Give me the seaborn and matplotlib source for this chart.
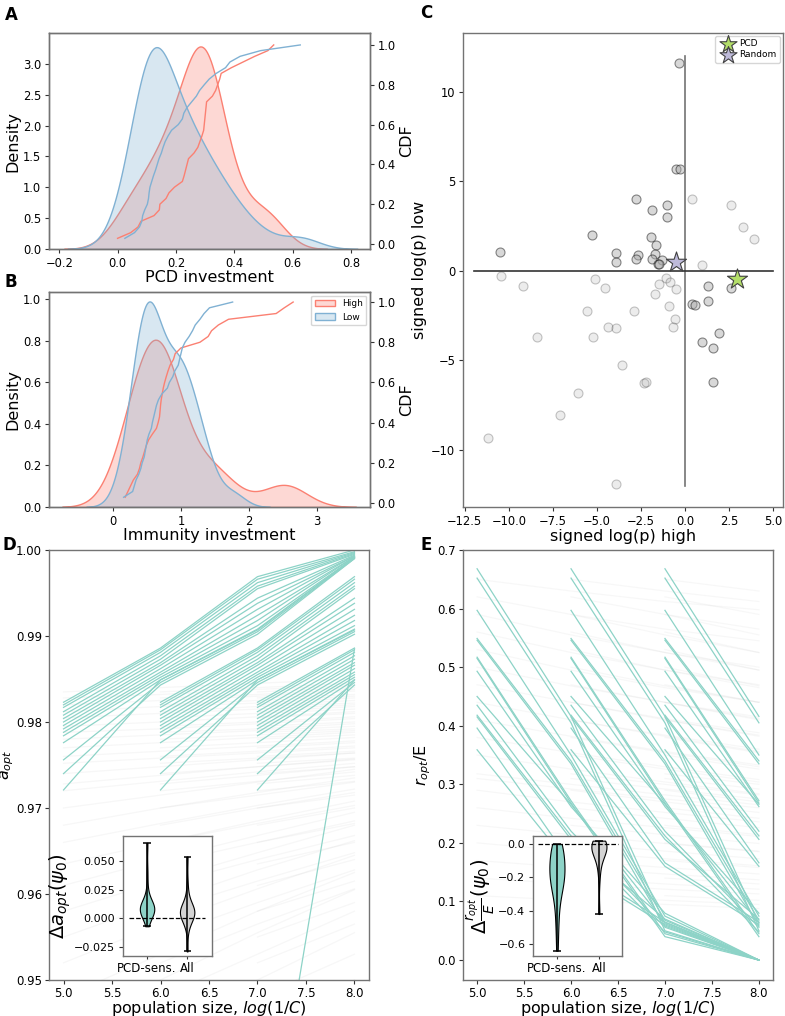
import numpy as np
import pandas as pd
import matplotlib
matplotlib.use("Agg")
import matplotlib.pyplot as plt
from matplotlib.patches import Patch
import seaborn as sns

# ---------------- data ----------------
pcd_high = [0.000, 0.045, 0.070, 0.080, 0.125, 0.143, 0.145, 0.166, 0.176, 0.195, 0.222, 0.228,
            0.233, 0.238, 0.243, 0.262, 0.275, 0.282, 0.289, 0.295, 0.297, 0.299, 0.301, 0.303,
            0.305, 0.325, 0.336, 0.343, 0.350, 0.355, 0.390, 0.430, 0.470, 0.515, 0.535]
pcd_low = [0.025, 0.058, 0.075, 0.083, 0.086, 0.093, 0.102, 0.106, 0.108, 0.111, 0.117, 0.123,
           0.130, 0.136, 0.142, 0.150, 0.156, 0.163, 0.173, 0.185, 0.208, 0.222, 0.227, 0.238,
           0.254, 0.270, 0.281, 0.297, 0.314, 0.338, 0.370, 0.385, 0.420, 0.490, 0.626]
imm_high = [0.18, 0.22, 0.26, 0.30, 0.36, 0.39, 0.41, 0.44, 0.465, 0.49, 0.525, 0.58, 0.64, 0.665,
            0.685, 0.693, 0.70, 0.71, 0.725, 0.74, 0.76, 0.784, 0.81, 0.84, 0.89, 0.915, 1.00,
            1.28, 1.40, 1.45, 1.55, 1.70, 2.40, 2.52, 2.65]
imm_low = [0.157, 0.29, 0.315, 0.34, 0.38, 0.41, 0.43, 0.46, 0.475, 0.49, 0.505, 0.53, 0.565, 0.58,
           0.60, 0.62, 0.64, 0.67, 0.72, 0.80, 0.83, 0.88, 0.91, 0.96, 0.98, 1.00, 1.02, 1.06,
           1.12, 1.17, 1.21, 1.28, 1.34, 1.42, 1.76]
group_labels = ["High", "Low"]

# panel C: signed log(p) high / low per gene
sig_high = [-0.34, -0.53, -0.30, -2.8, 0.42, -0.99, 2.61, -1.85, -1.03, 3.31, -5.28, -1.94, 3.92,
            -1.66, -10.5, -3.89, -2.69, -1.68, -2.78, -1.85, -1.31, -3.89, -1.54, -1.47, 0.99,
            -10.46, -5.1, -1.1, -0.82, -1.45, -9.2, -4.51, -0.48, 1.31, 2.61, -1.68, 0.40, 0.57,
            1.31, -0.91, -5.56, -2.9, -0.59, -4.38, -3.89, -0.69, 1.96, -8.4, -5.24, 0.95, 1.62,
            -3.6, -2.34, -2.21, 1.60, -6.08, -7.09, -11.17, -3.89]
sig_low = [11.65, 5.67, 5.71, 4.0, 4.02, 3.70, 3.70, 3.40, 3.0, 2.44, 1.99, 1.92, 1.77, 1.43, 1.06,
           1.02, 0.91, 0.97, 0.69, 0.69, 0.61, 0.47, 0.39, 0.39, 0.32, -0.30, -0.43, -0.39, -0.61,
           -0.74, -0.86, -0.93, -0.99, -0.86, -0.95, -1.28, -1.84, -1.93, -1.66, -1.97, -2.27,
           -2.23, -2.70, -3.11, -3.20, -3.14, -3.50, -3.68, -3.68, -3.98, -4.33, -5.27, -6.29,
           -6.23, -6.20, -6.85, -8.07, -9.32, -11.89]
star_labels = ["PCD", "Random"]
star_high = [2.96, -0.48]
star_low = [-0.43, 0.47]

# panels D/E: optimum vs population size; each sequence gives values at successive sizes
pop_sizes = [5, 6, 7, 8]
a_pcd = [
    (0.9823, 0.9886, 0.9969, 1.0000), (0.9820, 0.9884, 0.9966, 0.9998),
    (0.9817, 0.9881, 0.9962, 0.9997), (0.9812, 0.9877, 0.9958, 0.9996),
    (0.9808, 0.9873, 0.9955, 0.9995), (0.9804, 0.9869, 0.9944, 0.9994),
    (0.9800, 0.9866, 0.9938, 0.9993), (0.9796, 0.9862, 0.9931, 0.9993),
    (0.9792, 0.9858, 0.9924, 0.9992), (0.9788, 0.9855, 0.9918, 0.9992),
    (0.9784, 0.9852, 0.9912, 0.9991), (0.9776, 0.9849, 0.9907, 0.9991),
    (0.9756, 0.9846, 0.9905, 0.9990), (0.9740, 0.9843, 0.9902, 0.9990),
    (0.9721, 0.9849, 0.9908, 0.9991),
]
a_other = [
    (0.9835, 0.9840, 0.9845, 0.9850), (0.9828, 0.9832, 0.9838, 0.9842),
    (0.9820, 0.9825, 0.9830, 0.9836), (0.9812, 0.9818, 0.9822, 0.9828),
    (0.9805, 0.9810, 0.9815, 0.9820), (0.9795, 0.9800, 0.9806, 0.9812),
    (0.9788, 0.9792, 0.9798, 0.9804), (0.9780, 0.9785, 0.9790, 0.9795),
    (0.9770, 0.9776, 0.9782, 0.9788), (0.9760, 0.9766, 0.9772, 0.9778),
    (0.9752, 0.9758, 0.9764, 0.9770), (0.9740, 0.9748, 0.9756, 0.9764),
    (0.9728, 0.9738, 0.9748, 0.9757), (0.9720, 0.9731, 0.9742, 0.9752),
    (0.9700, 0.9715, 0.9730, 0.9745), (0.9680, 0.9700, 0.9718, 0.9735),
    (0.9660, 0.9682, 0.9703, 0.9722), (0.9635, 0.9660, 0.9685, 0.9708),
    (0.9610, 0.9640, 0.9668, 0.9695), (0.9580, 0.9615, 0.9648, 0.9680),
    (0.9550, 0.9590, 0.9628, 0.9662), (0.9520, 0.9565, 0.9606, 0.9645),
    (0.9480, 0.9530, 0.9580, 0.9625), (0.9440, 0.9500, 0.9555, 0.9605),
]
a_extra_size = [7, 8]
a_extra_val = [0.921, 0.9885]
r_pcd = [
    (0.668, 0.416, 0.062, 0.000), (0.652, 0.405, 0.050, 0.000),
    (0.597, 0.350, 0.075, 0.000), (0.549, 0.340, 0.068, 0.000),
    (0.546, 0.335, 0.058, 0.000), (0.517, 0.272, 0.045, 0.000),
    (0.515, 0.268, 0.040, 0.000), (0.493, 0.262, 0.080, 0.000),
    (0.450, 0.266, 0.064, 0.000), (0.435, 0.220, 0.056, 0.000),
    (0.418, 0.212, 0.048, 0.000), (0.415, 0.206, 0.070, 0.000),
    (0.396, 0.166, 0.065, 0.000), (0.359, 0.160, 0.060, 0.000),
]
r_other = [
    (0.650, 0.630, 0.612, 0.598), (0.620, 0.590, 0.565, 0.545),
    (0.590, 0.555, 0.525, 0.500), (0.560, 0.525, 0.495, 0.470),
    (0.530, 0.495, 0.465, 0.440), (0.500, 0.468, 0.440, 0.415),
    (0.470, 0.440, 0.412, 0.388), (0.440, 0.410, 0.384, 0.360),
    (0.410, 0.382, 0.356, 0.333), (0.380, 0.354, 0.330, 0.308),
    (0.350, 0.326, 0.304, 0.284), (0.318, 0.300, 0.282, 0.265),
    (0.310, 0.292, 0.275, 0.260), (0.290, 0.270, 0.252, 0.236),
    (0.260, 0.242, 0.226, 0.211), (0.230, 0.214, 0.199, 0.185),
    (0.200, 0.186, 0.173, 0.161), (0.170, 0.158, 0.147, 0.137),
    (0.140, 0.130, 0.121, 0.113), (0.110, 0.102, 0.095, 0.088),
]
# inset distributions
violin_labels = ["PCD-sens.", "All"]
da_pcd = [-0.007, -0.002, 0.001, 0.003, 0.004, 0.005, 0.006, 0.006, 0.007, 0.007, 0.008, 0.008,
          0.008, 0.008, 0.009, 0.009, 0.009, 0.010, 0.010, 0.011, 0.012, 0.013, 0.015, 0.018,
          0.026, 0.040, 0.066]
da_all = [-0.029, -0.010, -0.004, -0.002, 0.000, 0.001, 0.002, 0.003, 0.004, 0.004, 0.005, 0.005,
          0.005, 0.006, 0.006, 0.006, 0.007, 0.007, 0.008, 0.009, 0.010, 0.012, 0.015, 0.020,
          0.030, 0.054]
dr_pcd = [0.0, -0.005, -0.01, -0.02, -0.03, -0.05, -0.07, -0.09, -0.10, -0.12, -0.13, -0.15,
          -0.16, -0.17, -0.19, -0.20, -0.21, -0.22, -0.24, -0.25, -0.27, -0.29, -0.33, -0.38,
          -0.45, -0.52, -0.64]
dr_all = [0.02, 0.015, 0.01, 0.005, 0.0, 0.0, -0.005, -0.01, -0.01, -0.015, -0.02, -0.02, -0.03,
          -0.04, -0.05, -0.06, -0.08, -0.10, -0.13, -0.20, -0.42]

# ---------------- style ----------------
pal = sns.color_palette("Set3")
TEAL, PURPLE, RED, BLUE, GREEN = pal[0], pal[2], pal[3], pal[4], pal[6]
SPINE = "0.45"
plt.rcParams.update({
    "font.family": ["DejaVu Sans"],
    "axes.edgecolor": SPINE,
    "axes.linewidth": 1.0,
    "xtick.labelsize": 8.3,
    "ytick.labelsize": 8.3,
    "axes.labelsize": 11.5,
    "axes.labelpad": 2,
    "xtick.major.size": 3,
    "ytick.major.size": 3,
    "xtick.major.pad": 2.5,
    "ytick.major.pad": 2.5,
    "xtick.color": "0.2",
    "ytick.color": "0.2",
    "xtick.labelcolor": "black",
    "ytick.labelcolor": "black",
})

W, H = 785, 1016
fig = plt.figure(figsize=(W / 100, H / 100), dpi=100)


def box(l, t, r, b):
    return [l / W, 1 - b / H, (r - l) / W, (b - t) / H]


def ecdf(ax, vals, color):
    xs = np.sort(vals)
    ys = np.arange(1, len(xs) + 1) / len(xs)
    sns.lineplot(x=xs, y=ys, ax=ax, color=color, lw=1.0, estimator=None, sort=False)


# ---- Panel A
axA = fig.add_axes(box(49, 33, 370, 249))
sns.kdeplot(x=pcd_high, ax=axA, color=RED, fill=True, alpha=0.3, lw=1)
sns.kdeplot(x=pcd_low, ax=axA, color=BLUE, fill=True, alpha=0.3, lw=1)
axA.set_xlim(-0.235, 0.865)
axA.set_ylim(0, 3.5)
axA.set_yticks([0, 0.5, 1.0, 1.5, 2.0, 2.5, 3.0])
axA.set_xlabel("PCD investment", labelpad=0)
axA.set_ylabel("Density")
axA2 = axA.twinx()
ecdf(axA2, pcd_high, RED)
ecdf(axA2, pcd_low, BLUE)
axA2.set_ylim(-0.025, 1.06)
axA2.set_ylabel("CDF")

# ---- Panel B
axB = fig.add_axes(box(49, 292, 370, 507))
sns.kdeplot(x=imm_high, ax=axB, color=RED, fill=True, alpha=0.3, lw=1)
sns.kdeplot(x=imm_low, ax=axB, color=BLUE, fill=True, alpha=0.3, lw=1)
axB.set_xlim(-0.94, 3.78)
axB.set_ylim(0, 1.034)
axB.set_xlabel("Immunity investment", labelpad=0)
axB.set_ylabel("Density")
axB2 = axB.twinx()
ecdf(axB2, imm_high, RED)
ecdf(axB2, imm_low, BLUE)
axB2.set_ylim(-0.02, 1.05)
axB2.set_ylabel("CDF")
handles = [Patch(facecolor=(*c, 0.3), edgecolor=c, lw=1) for c in (RED, BLUE)]
axB2.legend(handles, group_labels, loc="upper right", fontsize=6.5, frameon=True,
            borderaxespad=0.4, handlelength=2.2)

# ---- Panel C
axC = fig.add_axes(box(463, 33, 783, 507))
dfc = pd.DataFrame({"high": sig_high, "low": sig_low})
anti = dfc["high"] * dfc["low"] < 0
sns.scatterplot(data=dfc[~anti], x="high", y="low", ax=axC, s=42, color="darkgrey",
                edgecolor="black", linewidth=0.8, alpha=0.22)
sns.scatterplot(data=dfc[anti], x="high", y="low", ax=axC, s=42, color="darkgrey",
                edgecolor="black", linewidth=0.8, alpha=0.45)
axC.plot([0, 0], [-12, 12], color="0.45", lw=1.2, zorder=1)
axC.plot([-12, 5], [0, 0], color="0.2", lw=1.2, zorder=1)
for lab, xh, yl, c in zip(star_labels, star_high, star_low, (GREEN, PURPLE)):
    axC.scatter([xh], [yl], marker="*", s=230, color=c, edgecolor="0.25", linewidth=0.8,
                zorder=5, label=lab)
axC.legend(loc="upper right", fontsize=6.5, borderaxespad=0.3, handletextpad=0.3,
           markerscale=0.85, labelspacing=0.2)
axC.set_xlim(-12.6, 5.57)
axC.set_ylim(-13.2, 13.3)
axC.set_xticks([-12.5, -10, -7.5, -5, -2.5, 0, 2.5, 5])
axC.set_yticks([-10, -5, 0, 5, 10])
axC.set_xlabel("signed log(p) high", labelpad=1)
axC.set_ylabel("signed log(p) low", labelpad=3)


def seq_frame(seqs, tag):
    rows = []
    for i, seq in enumerate(seqs):
        for s in range(len(pop_sizes) - 1):
            for k in range(len(pop_sizes) - s):
                rows.append((f"{tag}{i}_{s}", pop_sizes[s + k], seq[k]))
    return pd.DataFrame(rows, columns=["unit", "size", "val"])


# ---- Panel D
axD = fig.add_axes(box(49, 550, 369, 980))
sns.lineplot(data=seq_frame(a_other, "g"), x="size", y="val", units="unit", estimator=None,
             color="0.6", alpha=0.08, lw=0.9, ax=axD)
sns.lineplot(data=seq_frame(a_pcd, "t"), x="size", y="val", units="unit", estimator=None,
             color=TEAL, lw=0.9, ax=axD)
sns.lineplot(x=a_extra_size, y=a_extra_val, color=TEAL, lw=0.9, ax=axD)
axD.set_xlim(4.85, 8.15)
axD.set_ylim(0.95, 1.0)
axD.set_xticks([5, 5.5, 6, 6.5, 7, 7.5, 8])
axD.tick_params(labelsize=8.5, pad=2)
axD.set_xlabel("population size, $log(1/C)$", fontsize=11.5, labelpad=-1)
axD.set_ylabel("$a_{opt}$", fontsize=11.5, labelpad=0)

# ---- Panel E
axE = fig.add_axes(box(463, 550, 773, 980))
sns.lineplot(data=seq_frame(r_other, "g"), x="size", y="val", units="unit", estimator=None,
             color="0.6", alpha=0.07, lw=0.9, ax=axE)
sns.lineplot(data=seq_frame(r_pcd, "t"), x="size", y="val", units="unit", estimator=None,
             color=TEAL, lw=0.9, ax=axE)
axE.set_xlim(4.85, 8.15)
axE.set_ylim(-0.034, 0.70)
axE.set_xticks([5, 5.5, 6, 6.5, 7, 7.5, 8])
axE.tick_params(labelsize=8.5, pad=2)
axE.set_xlabel("population size, $log(1/C)$", fontsize=11.5, labelpad=-1)
axE.set_ylabel("$r_{opt}$/E", labelpad=3)


def inset_violin(rect, d1, d2, ylim, yticks, ylabel, xlim):
    ax = fig.add_axes(rect)
    parts = ax.violinplot([d1, d2], positions=[0, 1], widths=0.36, showextrema=True)
    for body, fc in zip(parts["bodies"], (TEAL, "lightgrey")):
        body.set_facecolor(fc)
        body.set_edgecolor("black")
        body.set_linewidth(0.8)
        body.set_alpha(1)
    for key in ("cmins", "cmaxes", "cbars"):
        parts[key].set_color("black")
        parts[key].set_linewidth(1.1)
    ax.hlines(0, -0.45, 1.45, colors="black", linestyles="--", lw=0.9)
    ax.set_xlim(*xlim)
    ax.set_ylim(*ylim)
    ax.set_yticks(yticks)
    ax.set_xticks([0, 1])
    ax.set_xticklabels(violin_labels, fontsize=8.5)
    ax.tick_params(axis="x", length=2, pad=2)
    ax.tick_params(axis="y", labelsize=8)
    ax.set_ylabel(ylabel, fontsize=14, labelpad=1)
    return ax


inset_violin(box(123, 836, 212, 956), da_pcd, da_all, (-0.033, 0.072),
             [-0.025, 0.0, 0.025, 0.05], r"$\Delta a_{opt}(\psi_0)$", (-0.6, 1.62))
inset_violin(box(533, 836, 622, 956), dr_pcd, dr_all, (-0.672, 0.048),
             [-0.6, -0.4, -0.2, 0.0], r"$\Delta\frac{r_{opt}}{E}(\psi_0)$", (-0.57, 1.55))

# panel letters
for lab, x, y in (("A", 5, 6), ("B", 5, 273), ("C", 420, 4), ("D", 3, 536), ("E", 420, 536)):
    fig.text(x / W, 1 - y / H, lab, fontsize=12, fontweight="bold", va="top", ha="left")

fig.savefig("out.png", dpi=100)
